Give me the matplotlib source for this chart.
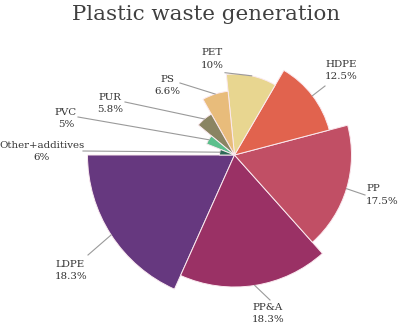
import numpy as np
import matplotlib
matplotlib.use("Agg")
import matplotlib.pyplot as plt

# ---- data ----
categories = ["LDPE", "PP&A", "PP", "HDPE", "PET", "PS", "PUR", "PVC", "Other+additives"]
shares = [18.3, 18.3, 17.5, 12.5, 10, 6.6, 5.8, 5, 6]
radii = [147, 132, 117, 98, 81, 64, 47, 30, 15]   # sector radius (rose style)
colors = ["#66387F", "#9A3165", "#C14F65", "#E1634E", "#E8D690",
          "#E8BC7B", "#8A8462", "#5CBF8C", "#2E6B58"]

# label layout (pixel positions in the 400x327 canvas, y from top)
label_pos = [(55, 270.5, "left"), (252, 313.5, "left"), (366, 195, "left"),
             (325, 70.5, "left"), (212, 59, "center"), (167, 85.5, "center"),
             (110, 103.5, "center"), (66, 118.5, "center"), (42, 151.5, "center")]
leader_end = [(88, 255), (270, 300), (365, 195), (325, 86), (225, 72.7),
              (180, 83), (125, 102), (78, 117), (83, 151)]

W, H = 400, 327
fig = plt.figure(figsize=(W / 100, H / 100), dpi=100)
ax = fig.add_axes([0, 0, 1, 1])

cx, cy = 234.5, H - 155
wedges, _ = ax.pie(shares, colors=colors, startangle=180, counterclock=True,
                   center=(cx, cy), radius=1, frame=True,
                   wedgeprops=dict(edgecolor="#fbeaf0", linewidth=0.7))
ax.set_xlim(0, W)
ax.set_ylim(0, H)
ax.set_aspect("equal")
ax.axis("off")

for w, r in zip(wedges, radii):
    w.set_radius(r)

serif = ["DejaVu Serif"]
for i, (w, r) in enumerate(zip(wedges, radii)):
    mid = np.deg2rad((w.theta1 + w.theta2) / 2)
    x0, y0 = cx + r * np.cos(mid), cy + r * np.sin(mid)
    ex, ey = leader_end[i]
    ax.plot([x0, ex], [y0, H - ey], color="#9a9a9a", lw=0.8, zorder=1)
    lx, ly, ha = label_pos[i]
    pct = f"{shares[i]:g}%"
    ax.text(lx, H - ly, f"{categories[i]}\n{pct}", ha=ha, va="center",
            multialignment=ha, fontsize=7.4, color="#333333", family=serif,
            linespacing=1.45)

ax.text(206, H - 15, "Plastic waste generation", ha="center", va="center",
        fontsize=15.4, color="#404040", family=serif)

fig.savefig("out.png", dpi=100)
